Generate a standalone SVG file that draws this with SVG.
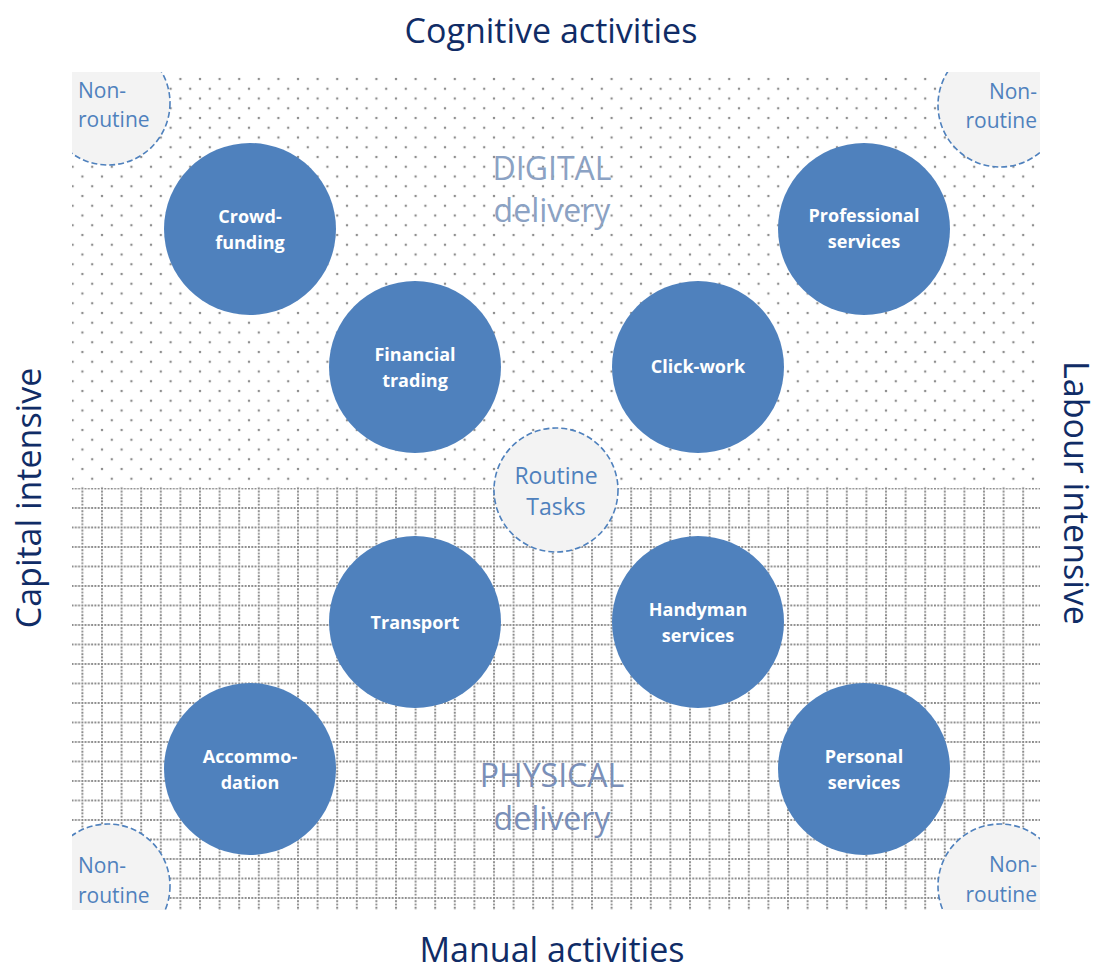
<svg xmlns="http://www.w3.org/2000/svg" width="1101" height="972" viewBox="0 0 1101 972">
  <style>
    .title { font-family: "Open Sans", "Liberation Sans", sans-serif; font-size: 34px; fill: #102c66; text-anchor: middle; }
    .zone { font-family: "Open Sans", "Liberation Sans", sans-serif; font-size: 32px; text-anchor: middle; }
    .node { fill: #4f81bd; }
    .label { font-family: "Open Sans", "Liberation Sans", sans-serif; font-size: 18px; font-weight: bold; fill: #ffffff; text-anchor: middle; }
    .soft { fill: #f3f3f3; stroke: #4f81bd; stroke-width: 1.6; stroke-dasharray: 6 3; }
    .softtext { font-family: "Open Sans", "Liberation Sans", sans-serif; fill: #4f81bd; }
  </style>
  <defs>
    <pattern id="dots" patternUnits="userSpaceOnUse" x="77.5" y="444.6" width="19.6" height="19.5">
      <rect x="3.8" y="3.8" width="2.2" height="2.2" fill="#8e8e8e"/>
      <rect x="13.6" y="13.55" width="2.2" height="2.2" fill="#8e8e8e"/>
    </pattern>
    <pattern id="grid" patternUnits="userSpaceOnUse" x="81.4" y="507" width="19.6" height="19.5">
      <line x1="0" y1="1" x2="19.6" y2="1" stroke="#8a8a8a" stroke-width="2" stroke-dasharray="1.9 1.367"/>
      <line x1="1" y1="0" x2="1" y2="19.5" stroke="#8a8a8a" stroke-width="2" stroke-dasharray="1.9 1.35"/>
    </pattern>
    <clipPath id="area">
      <rect x="72" y="72" width="968" height="838"/>
    </clipPath>
  </defs>

  <rect width="1101" height="972" fill="#ffffff"/>

  <g id="background">
    <rect x="72" y="72" width="968" height="416" fill="url(#dots)"/>
    <rect x="72" y="488" width="968" height="422" fill="url(#grid)"/>
  </g>

  <g id="zone-labels">
    <text class="zone" x="552" y="180" fill="#8ba2c4">DIGITAL</text>
    <text class="zone" x="552" y="222" fill="#8ba2c4">delivery</text>
    <text class="zone" x="552" y="787" fill="#7a8fb8">PHYSICAL</text>
    <text class="zone" x="552" y="830" fill="#7a8fb8">delivery</text>
  </g>

  <g id="corner-nonroutine" clip-path="url(#area)">
    <g id="nonroutine-tl">
      <circle class="soft" cx="108" cy="103" r="62"/>
      <text class="softtext" font-size="21" x="78" y="98">Non-</text>
      <text class="softtext" font-size="21" x="78" y="127">routine</text>
    </g>
    <g id="nonroutine-tr">
      <circle class="soft" cx="1000" cy="105" r="62"/>
      <text class="softtext" font-size="21" x="1037" y="99" text-anchor="end">Non-</text>
      <text class="softtext" font-size="21" x="1037" y="128" text-anchor="end">routine</text>
    </g>
    <g id="nonroutine-bl">
      <circle class="soft" cx="108" cy="886" r="62"/>
      <text class="softtext" font-size="21" x="78" y="873">Non-</text>
      <text class="softtext" font-size="21" x="78" y="903">routine</text>
    </g>
    <g id="nonroutine-br">
      <circle class="soft" cx="1000" cy="886" r="62"/>
      <text class="softtext" font-size="21" x="1037" y="872" text-anchor="end">Non-</text>
      <text class="softtext" font-size="21" x="1037" y="902" text-anchor="end">routine</text>
    </g>
  </g>

  <g id="connectors"></g>

  <g id="routine-tasks">
    <circle class="soft" cx="556" cy="490" r="62"/>
    <text class="softtext" font-size="23" x="556" y="484" text-anchor="middle">Routine</text>
    <text class="softtext" font-size="23" x="556" y="515" text-anchor="middle">Tasks</text>
  </g>

  <g id="crowdfunding">
    <circle class="node" cx="250" cy="229" r="86"/>
    <text class="label" x="250" y="223">Crowd-</text>
    <text class="label" x="250" y="249">funding</text>
  </g>
  <g id="professional-services">
    <circle class="node" cx="864" cy="229" r="86"/>
    <text class="label" x="864" y="222">Professional</text>
    <text class="label" x="864" y="248">services</text>
  </g>
  <g id="financial-trading">
    <circle class="node" cx="415" cy="367" r="86"/>
    <text class="label" x="415" y="361">Financial</text>
    <text class="label" x="415" y="387">trading</text>
  </g>
  <g id="click-work">
    <circle class="node" cx="698" cy="367" r="86"/>
    <text class="label" x="698" y="373">Click-work</text>
  </g>
  <g id="transport">
    <circle class="node" cx="415" cy="622" r="86"/>
    <text class="label" x="415" y="629">Transport</text>
  </g>
  <g id="handyman-services">
    <circle class="node" cx="698" cy="622" r="86"/>
    <text class="label" x="698" y="616">Handyman</text>
    <text class="label" x="698" y="642">services</text>
  </g>
  <g id="accommodation">
    <circle class="node" cx="250" cy="769" r="86"/>
    <text class="label" x="250" y="763">Accommo-</text>
    <text class="label" x="250" y="789">dation</text>
  </g>
  <g id="personal-services">
    <circle class="node" cx="864" cy="769" r="86"/>
    <text class="label" x="864" y="763">Personal</text>
    <text class="label" x="864" y="789">services</text>
  </g>

  <g id="axis-labels">
    <text class="title" x="551" y="43">Cognitive activities</text>
    <text class="title" x="552" y="962">Manual activities</text>
    <text class="title" transform="translate(41,498) rotate(-90)">Capital intensive</text>
    <text class="title" font-size="33" transform="translate(1064,493) rotate(90)">Labour intensive</text>
  </g>
</svg>
